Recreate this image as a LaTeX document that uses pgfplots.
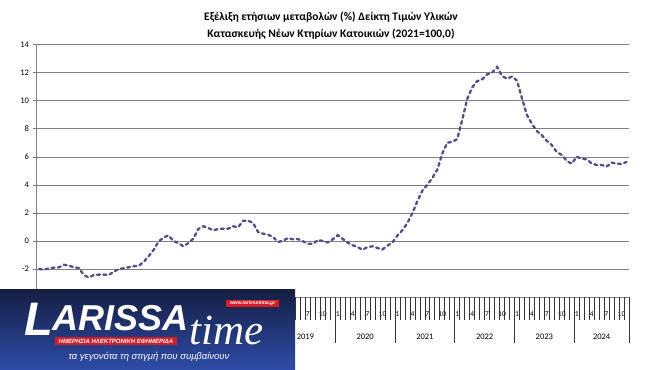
\documentclass[border=0pt]{standalone}
\usepackage{fontspec}
\setmainfont{Carlito}
\newfontfamily\logosans{Liberation Sans}
\newfontfamily\logoserif{Liberation Serif}
\usepackage{pgfplots}
\pgfplotsset{compat=1.18}
\usepackage{pgfplotstable}
\definecolor{linepurple}{RGB}{89,74,138}
\definecolor{gridgray}{RGB}{128,128,128}
\definecolor{logoTop}{RGB}{20,30,66}
\definecolor{logoBot}{RGB}{46,76,168}
\definecolor{logoRed}{RGB}{215,28,36}

% Annual change (%) of the index, Jan 2015 (i=0) to Nov 2024 (i=118)
\pgfplotstableread{
i v
0 -2.00
1 -2.05
2 -1.95
3 -1.90
4 -1.88
5 -1.70
6 -1.75
7 -1.88
8 -1.93
9 -2.43
10 -2.60
11 -2.43
12 -2.40
13 -2.40
14 -2.43
15 -2.20
16 -2.00
17 -1.95
18 -1.88
19 -1.80
20 -1.78
21 -1.50
22 -1.10
23 -0.65
24 -0.05
25 0.25
26 0.40
27 0.00
28 -0.15
29 -0.38
30 -0.15
31 0.17
32 0.86
33 1.05
34 0.93
35 0.76
36 0.86
37 0.88
38 0.88
39 1.05
40 0.98
41 1.45
42 1.45
43 1.29
44 0.64
45 0.52
46 0.45
47 0.29
48 -0.07
49 0.02
50 0.21
51 0.12
52 0.14
53 -0.02
54 -0.19
55 -0.21
56 0.07
57 0.00
58 -0.10
59 0.12
60 0.42
61 0.15
62 -0.12
63 -0.30
64 -0.44
65 -0.62
66 -0.43
67 -0.38
68 -0.50
69 -0.60
70 -0.33
71 -0.10
72 0.40
73 0.78
74 1.29
75 2.00
76 2.85
77 3.60
78 4.02
79 4.50
80 5.10
81 6.25
82 7.02
83 7.08
84 7.28
85 8.65
86 10.14
87 10.97
88 11.42
89 11.55
90 11.90
91 12.02
92 12.43
93 11.78
94 11.60
95 11.74
96 11.46
97 10.20
98 9.00
99 8.37
100 7.85
101 7.55
102 7.15
103 6.85
104 6.35
105 6.15
106 5.72
107 5.52
108 6.02
109 5.88
110 5.83
111 5.54
112 5.43
113 5.43
114 5.31
115 5.60
116 5.53
117 5.50
118 5.65
}\datatable

\begin{document}
\begin{tikzpicture}[x=1bp,y=1bp]
\useasboundingbox (0,0) rectangle (657,369);
\node[inner sep=0, font=\bfseries\fontsize{11.5bp}{13bp}\selectfont] at (331,352) {Εξέλιξη ετήσιων μεταβολών (\%) Δείκτη Τιμών Υλικών};
\node[inner sep=0, font=\bfseries\fontsize{11.5bp}{13bp}\selectfont] at (331,335) {Κατασκευής Νέων Κτηρίων Κατοικιών (2021=100,0)};
\begin{axis}[
  at={(36.5bp,72bp)}, anchor=south west, scale only axis,
  width=592.5bp, height=252bp,
  xmin=-0.5, xmax=118.5, ymin=-4, ymax=14,
  axis x line*=bottom, axis y line*=left,
  axis line style={gridgray, line width=1bp},
  ytick={-4,-2,...,14}, yticklabels={,-2,0,2,4,6,8,10,12,14},
  ymajorgrids, grid style={gridgray, line width=1bp},
  tick align=outside, major tick length=4bp,
  ytick style={gridgray, line width=1bp},
  yticklabel style={font=\fontsize{8.5bp}{9bp}\selectfont, black},
  xtick={54,57,...,117},
  xticklabels={7,10,1,4,7,10,1,4,7,10,1,4,7,10,1,4,7,10,1,4,7,10},
  xtick style={draw=none},
  xticklabel style={font=\fontsize{7.5bp}{8bp}\selectfont, black, anchor=center, yshift=-13bp},
  clip=false,
]
\addplot[linepurple, line width=2.3bp, line cap=round, dash pattern=on 3bp off 3.4bp] table[x=i,y=v]{\datatable};
\end{axis}
% category separators
\foreach \k in {0,...,119} \draw[black!80, line width=0.7bp] ({36.5+\k*4.97899},72) -- ++(0,-23);
\foreach \k in {0,12,...,108,119} \draw[black!80, line width=0.7bp] ({36.5+\k*4.97899},49) -- ++(0,-23);
\foreach \y [count=\j from 4] in {2019,...,2023}
  \node[inner sep=0, font=\fontsize{8.5bp}{9bp}\selectfont] at ({36.5+(12*\j+6)*4.97899},32) {\y};
\node[inner sep=0, font=\fontsize{8.5bp}{9bp}\selectfont] at ({36.5+113.5*4.97899},32) {2024};
% logo overlay
\shade[top color=logoTop, bottom color=logoBot] (0,0) rectangle (295,80);
\node[inner sep=0, anchor=base west, text=white, font=\logosans\bfseries\itshape\fontsize{47bp}{47bp}\selectfont] at (24,34) {L};
\node[inner sep=0, anchor=base west, text=white, font=\logosans\bfseries\itshape\fontsize{36bp}{36bp}\selectfont] at (52,39) {ARISSA};
\fill[logoRed] (55,24) rectangle (177,32);
\node[inner sep=0, text=white, font=\logosans\bfseries\itshape\fontsize{6bp}{6bp}\selectfont] at (116,28) {ΗΜΕΡΗΣΙΑ ΗΛΕΚΤΡΟΝΙΚΗ ΕΦΗΜΕΡΙΔΑ};
\node[inner sep=0, anchor=base west, text=white, font=\logoserif\itshape\fontsize{43bp}{43bp}\selectfont] at (189,25) {time};
\fill[logoRed] (226,62) rectangle (279,69);
\node[inner sep=0, text=white, font=\logosans\bfseries\itshape\fontsize{5bp}{5bp}\selectfont] at (252.5,65.5) {www.larissatime.gr};
\node[inner sep=0, text=white, font=\logosans\itshape\fontsize{9.5bp}{10bp}\selectfont] at (149,12) {τα γεγονότα τη στιγμή που συμβαίνουν};
\end{tikzpicture}
\end{document}
